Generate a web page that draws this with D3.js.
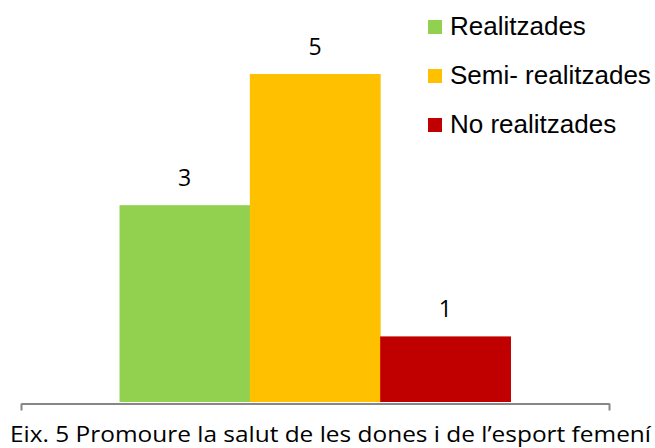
<!DOCTYPE html>
<html>
<head>
<meta charset="utf-8">
<script src="https://cdn.jsdelivr.net/npm/d3@7"></script>
<style>
  body { margin: 0; background: #fff; }
  svg { display: block; }
</style>
</head>
<body>
<div id="chart"></div>
<script>
// chart data
const categories = ['Eix. 5 Promoure la salut de les dones i de l\u2019esport femení']
const series = ['Realitzades', 'Semi- realitzades', 'No realitzades']
const values = [3, 5, 1]
const colorSet = ['#92D050', '#FFC000', '#C00000']

const width = 655
const height = 448
const baseY = 402

const svg = d3.select('#chart')
  .append('svg')
  .attr('width', width)
  .attr('height', height)

// one category across the plot, three series side by side
const x0 = d3.scaleBand()
  .domain(categories)
  .range([21, 609])
  .paddingInner(0)
  .paddingOuter(0.252)

const x1 = d3.scaleBand()
  .domain(series)
  .range([0, x0.bandwidth()])
  .padding(0)

const y = d3.scaleLinear()
  .domain([0, 5])
  .range([baseY, 74])

const bars = series.map((s, i) => ({ cat: categories[0], name: s, value: values[i], color: colorSet[i] }))

svg.selectAll('.bar')
  .data(bars)
  .enter()
  .append('rect')
  .attr('class', 'bar')
  .attr('x', d => x0(d.cat) + x1(d.name))
  .attr('width', x1.bandwidth() + 0.5)
  .attr('y', d => y(d.value))
  .attr('height', d => y(0) - y(d.value))
  .style('fill', d => d.color)

// value labels
svg.selectAll('.val')
  .data(bars)
  .enter()
  .append('text')
  .attr('class', 'val')
  .attr('x', d => x0(d.cat) + x1(d.name) + x1.bandwidth() / 2)
  .attr('y', d => y(d.value) - 19)
  .attr('text-anchor', 'middle')
  .style('font-family', '"Open Sans", sans-serif')
  .style('font-size', '23px')
  .style('fill', '#000')
  .text(d => d.value)

// category axis with boundary ticks
const edge = d3.scaleLinear().domain([0, 1]).range(x0.range())
const axis = svg.append('g')
  .attr('transform', `translate(0, ${baseY + 1.5})`)
  .call(d3.axisBottom(edge).tickValues([0, 1]).tickFormat('').tickSize(7).tickSizeOuter(0))
axis.selectAll('path, line')
  .style('stroke', '#868686')
  .style('stroke-width', '2px')

svg.append('text')
  .attr('x', 10)
  .attr('y', 442)
  .attr('textLength', 641)
  .attr('lengthAdjust', 'spacingAndGlyphs')
  .style('font-family', '"Open Sans", sans-serif')
  .style('font-size', '21px')
  .style('fill', '#000')
  .text(categories[0])

// legend
const legend = svg.selectAll('.legend')
  .data(bars)
  .enter()
  .append('g')
  .attr('class', 'legend')
  .attr('transform', (d, i) => `translate(428, ${20 + i * 49})`)

legend.append('rect')
  .attr('width', 14)
  .attr('height', 14)
  .style('fill', d => d.color)

legend.append('text')
  .attr('x', 22)
  .attr('y', 15)
  .style('font-family', '"Liberation Sans", Arial, sans-serif')
  .style('font-size', '26px')
  .style('fill', '#000')
  .text(d => d.name)
</script>
</body>
</html>
